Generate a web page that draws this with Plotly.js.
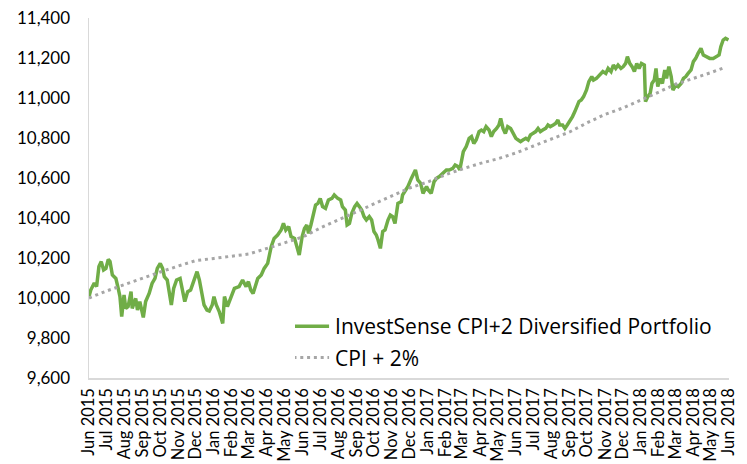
<!DOCTYPE html>
<html>
<head>
<meta charset="utf-8">
<script src="https://cdn.plot.ly/plotly-3.0.1.min.js"></script>
<style>html,body{margin:0;padding:0;background:#fff;}#chart{width:747px;height:464px;}</style>
</head>
<body>
<div id="chart"></div>
<script>
var startDate = "2015-06-01";
var seriesNames = ["InvestSense CPI+2 Diversified Portfolio", "CPI + 2%"];

// Portfolio: days since start date, and value
var invDay = [0,3,9,13,17,21,25,29,33,36,40,46,50,53,56,60,63,67,72,74,80,83,87,93,97,103,108,113,117,122,126,129,134,139,141,145,150,156,160,164,169,174,179,185,189,193,197,202,206,211,214,218,223,229,232,237,243,249,257,263,269,273,277,281,289,295,300,306,312,317,323,329,333,337,342,346,352,356,360,365,369,373,376,380,384,388,392,396,400,405,410,416,420,426,431,434,439,442,446,450,455,459,463,467,471,475,480,484,488,492,495,499,503,507,512,516,520,524,529,535,537,542,546,552,556,559,563,568,572,578,581,586,591,595,600,606,612,617,623,627,632,635,638,641,646,651,655,659,663,668,672,676,680,685,689,693,698,702,705,709,713,717,722,726,731,735,739,743,748,752,756,760,765,769,773,777,782,786,790,795,799,803,806,811,815,819,823,828,832,836,839,843,847,852,856,861,864,869,874,876,880,885,889,894,898,902,906,911,915,919,922,926,930,934,938,942,946,951,953,957,961,964,968,971,974,978,982,986,989,993,997,1000,1005,1009,1014,1018,1022,1026,1031,1035,1039,1043,1048,1052,1058,1063,1069,1075,1079,1082,1086,1090,1095];
var invValue = [10007,10040,10075,10057,10157,10182,10140,10148,10193,10182,10115,10098,10048,10007,9907,10015,9948,9957,10032,9948,9998,9940,9982,9903,9982,10023,10073,10098,10148,10173,10148,10107,10090,10015,9965,10048,10090,10098,10032,9982,10032,10040,10082,10132,10090,10023,9965,9940,9935,9965,10007,9965,9932,9873,10007,9957,10007,10048,10057,10090,10057,10082,10040,10023,10098,10115,10148,10173,10257,10298,10315,10340,10373,10340,10357,10307,10298,10257,10215,10307,10348,10365,10323,10365,10423,10465,10473,10498,10457,10448,10490,10498,10515,10498,10490,10457,10440,10365,10373,10423,10457,10473,10457,10440,10407,10390,10407,10390,10332,10315,10290,10248,10332,10340,10390,10415,10407,10373,10473,10482,10515,10540,10557,10598,10623,10640,10590,10573,10523,10557,10540,10523,10582,10598,10607,10623,10640,10640,10648,10665,10657,10640,10690,10732,10757,10798,10807,10773,10790,10832,10840,10832,10857,10840,10807,10832,10848,10865,10898,10848,10823,10857,10848,10823,10798,10790,10782,10790,10798,10790,10815,10823,10832,10848,10832,10840,10848,10865,10857,10865,10873,10890,10865,10865,10848,10865,10882,10907,10932,10957,10982,10990,11007,11040,11082,11107,11090,11098,11115,11123,11132,11123,11148,11132,11165,11148,11165,11148,11157,11173,11207,11173,11157,11132,11173,11148,11173,11165,10982,11007,11023,11073,11090,11148,11057,11098,11073,11140,11098,11157,11107,11040,11065,11057,11073,11098,11107,11123,11140,11182,11198,11223,11248,11215,11207,11198,11198,11207,11215,11257,11290,11298,11290];

// CPI + 2%: monthly values
var cpiDates = ["2015-06-01","2015-07-01","2015-08-01","2015-09-01","2015-10-01","2015-11-01","2015-12-01","2016-01-01","2016-02-01","2016-03-01","2016-04-01","2016-05-01","2016-06-01","2016-07-01","2016-08-01","2016-09-01","2016-10-01","2016-11-01","2016-12-01","2017-01-01","2017-02-01","2017-03-01","2017-04-01","2017-05-01","2017-06-01","2017-07-01","2017-08-01","2017-09-01","2017-10-01","2017-11-01","2017-12-01","2018-01-01","2018-02-01","2018-03-01","2018-04-01","2018-05-01","2018-05-22"];
var cpiValue = [10000,10035,10067,10100,10130,10160,10187,10198,10211,10220,10248,10276,10305,10350,10390,10430,10468,10508,10550,10580,10617,10645,10673,10696,10725,10760,10795,10830,10876,10918,10950,10988,11030,11068,11096,11127,11150];

var yTicks = [9600,9800,10000,10200,10400,10600,10800,11000,11200,11400];

var t0 = Date.UTC(2015,5,1);
var invDates = invDay.map(function(d){ return new Date(t0 + d*86400000).toISOString().slice(0,10); });

var FONT = "Lato, 'Open Sans', sans-serif";
var LFONT = "'Open Sans', Lato, sans-serif";

var traces = [
  {x: invDates, y: invValue, type: "scatter", mode: "lines", name: seriesNames[0],
   legendgroup: "a", line: {color: "#70ad47", width: 3.5}},
  {x: cpiDates, y: cpiValue, type: "scatter", mode: "lines", name: seriesNames[1],
   legendgroup: "b", line: {color: "#a6a6a6", width: 3, dash: "3px,3.8px"}}
];

var layout = {
  width: 747, height: 464,
  margin: {l: 89, r: 18, t: 18, b: 86},
  paper_bgcolor: "#fff", plot_bgcolor: "#fff",
  font: {family: FONT, size: 17, color: "#000"},
  showlegend: true,
  legend: {x: 0.322, y: 0.2, xanchor: "left", yanchor: "top", bgcolor: "rgba(0,0,0,0)",
           traceorder: "grouped", tracegroupgap: 1, font: {family: LFONT, size: 21, color: "#000"}},
  xaxis: {type: "date", range: ["2015-06-01","2018-06-01"], tick0: "2015-06-01", dtick: "M1",
          tickformat: "%b %Y", tickangle: -90, showgrid: false, zeroline: false,
          showline: true, linecolor: "#d9d9d9", linewidth: 1.5, ticks: "",
          ticklabelstandoff: 2, tickfont: {family: FONT, size: 16.5, color: "#000"}},
  yaxis: {range: [9600, 11400], tickvals: yTicks, tickformat: ",d", showgrid: false,
          zeroline: false, showline: true, linecolor: "#d9d9d9", linewidth: 1.5, ticks: "",
          ticklabelstandoff: 14, tickfont: {family: FONT, size: 17, color: "#000"}}
};

Plotly.newPlot("chart", traces, layout, {displayModeBar: false, staticPlot: true}).then(function(gd){
  // lengthen legend line samples to match the reference
  var paths = gd.querySelectorAll(".legend .legendlines path");
  paths.forEach(function(p){ p.setAttribute("d", "M-22,0h56"); });
});
</script>
</body>
</html>
